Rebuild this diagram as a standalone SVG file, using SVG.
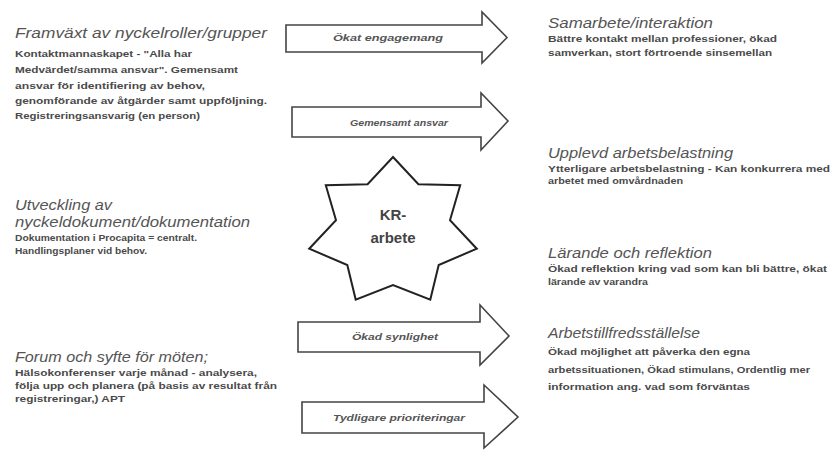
<svg xmlns="http://www.w3.org/2000/svg" width="834" height="450" viewBox="0 0 834 450">
<style>
.h{font-family:"Liberation Sans","DejaVu Sans",sans-serif;font-style:italic;font-size:14.5px;fill:#555}
.b{font-family:"Liberation Sans","DejaVu Sans",sans-serif;font-weight:bold;font-size:9.5px;fill:#4a4a4a}
.al{font-family:"Liberation Sans","DejaVu Sans",sans-serif;font-style:italic;font-weight:bold;font-size:9.5px;fill:#555;text-anchor:middle}
.arrow{fill:#fff;stroke:#444;stroke-width:1.6;stroke-linejoin:miter}
.star{fill:#fff;stroke:#222;stroke-width:2}
.st{font-family:"Liberation Sans","DejaVu Sans",sans-serif;font-weight:bold;font-size:15px;fill:#444;text-anchor:middle}
</style>
<rect width="834" height="450" fill="#fff"/>

<g id="left1">
<text class="h" x="15" y="38" textLength="252" lengthAdjust="spacingAndGlyphs">Framväxt av nyckelroller/grupper</text>
<text class="b" x="15" y="57" textLength="177" lengthAdjust="spacingAndGlyphs">Kontaktmannaskapet - "Alla har</text>
<text class="b" x="15" y="73" textLength="223" lengthAdjust="spacingAndGlyphs">Medvärdet/samma ansvar". Gemensamt</text>
<text class="b" x="15" y="89" textLength="190" lengthAdjust="spacingAndGlyphs">ansvar för identifiering av behov,</text>
<text class="b" x="15" y="104" textLength="252" lengthAdjust="spacingAndGlyphs">genomförande av åtgärder samt uppföljning.</text>
<text class="b" x="15" y="119" textLength="185" lengthAdjust="spacingAndGlyphs">Registreringsansvarig (en person)</text>
</g>

<g id="left2">
<text class="h" x="15" y="210" textLength="97" lengthAdjust="spacingAndGlyphs">Utveckling av</text>
<text class="h" x="15" y="227" textLength="235" lengthAdjust="spacingAndGlyphs">nyckeldokument/dokumentation</text>
<text class="b" x="15" y="241" textLength="182" lengthAdjust="spacingAndGlyphs">Dokumentation i Procapita = centralt.</text>
<text class="b" x="15" y="254" textLength="132" lengthAdjust="spacingAndGlyphs">Handlingsplaner vid behov.</text>
</g>

<g id="left3">
<text class="h" x="15" y="362" textLength="193" lengthAdjust="spacingAndGlyphs">Forum och syfte för möten;</text>
<text class="b" x="15" y="376" textLength="242" lengthAdjust="spacingAndGlyphs">Hälsokonferenser varje månad - analysera,</text>
<text class="b" x="15" y="389" textLength="262" lengthAdjust="spacingAndGlyphs">följa upp och planera (på basis av resultat från</text>
<text class="b" x="15" y="402" textLength="110" lengthAdjust="spacingAndGlyphs">registreringar,) APT</text>
</g>

<g id="right1">
<text class="h" x="548" y="28" textLength="165" lengthAdjust="spacingAndGlyphs">Samarbete/interaktion</text>
<text class="b" x="548" y="42" textLength="229" lengthAdjust="spacingAndGlyphs">Bättre kontakt mellan professioner, ökad</text>
<text class="b" x="548" y="56" textLength="224" lengthAdjust="spacingAndGlyphs">samverkan, stort förtroende sinsemellan</text>
</g>

<g id="right2">
<text class="h" x="548" y="158" textLength="185" lengthAdjust="spacingAndGlyphs">Upplevd arbetsbelastning</text>
<text class="b" x="548" y="172" textLength="282" lengthAdjust="spacingAndGlyphs">Ytterligare arbetsbelastning - Kan konkurrera med</text>
<text class="b" x="548" y="184" textLength="135" lengthAdjust="spacingAndGlyphs">arbetet med omvårdnaden</text>
</g>

<g id="right3">
<text class="h" x="548" y="258" textLength="164" lengthAdjust="spacingAndGlyphs">Lärande och reflektion</text>
<text class="b" x="548" y="272" textLength="279" lengthAdjust="spacingAndGlyphs">Ökad reflektion kring vad som kan bli bättre, ökat</text>
<text class="b" x="548" y="285" textLength="100" lengthAdjust="spacingAndGlyphs">lärande av varandra</text>
</g>

<g id="right4">
<text class="h" x="548" y="338" textLength="152" lengthAdjust="spacingAndGlyphs">Arbetstillfredsställelse</text>
<text class="b" x="548" y="355" textLength="202" lengthAdjust="spacingAndGlyphs">Ökad möjlighet att påverka den egna</text>
<text class="b" x="548" y="373" textLength="262" lengthAdjust="spacingAndGlyphs">arbetssituationen, Ökad stimulans, Ordentlig mer</text>
<text class="b" x="548" y="390" textLength="202" lengthAdjust="spacingAndGlyphs">information ang. vad som förväntas</text>
</g>

<g id="connectors">
<g id="arrow1">
<polygon class="arrow" points="286,25 482,25 482,12 507,37.5 482,63 482,52 286,52"/>
<text class="al" x="388" y="41" textLength="110" lengthAdjust="spacingAndGlyphs">Ökat engagemang</text>
</g>
<g id="arrow2">
<polygon class="arrow" points="292,107 481,107 481,93 508,121 481,150 481,137 292,137"/>
<text class="al" x="399" y="126" textLength="98" lengthAdjust="spacingAndGlyphs">Gemensamt ansvar</text>
</g>
<g id="arrow3">
<polygon class="arrow" points="298,322 480,322 480,305 509,336 480,365 480,352 298,352"/>
<text class="al" x="395" y="340" textLength="86" lengthAdjust="spacingAndGlyphs">Ökad synlighet</text>
</g>
<g id="arrow4">
<polygon class="arrow" points="302,402 484,402 484,385 518,417 484,448 484,433 302,433"/>
<text class="al" x="399" y="421" textLength="132" lengthAdjust="spacingAndGlyphs">Tydligare prioriteringar</text>
</g>
</g>

<g id="star">
<polygon class="star" points="393,157 418.4,184.2 460.2,185.2 450,220.2 476.8,248.7 438.7,265 430.3,299.6 393,285 355.7,299.6 347.3,265 309.2,248.7 336,220.2 325.8,185.2 367.6,184.2"/>
<text class="st" x="393" y="220">KR-</text>
<text class="st" x="393" y="243">arbete</text>
</g>
</svg>
